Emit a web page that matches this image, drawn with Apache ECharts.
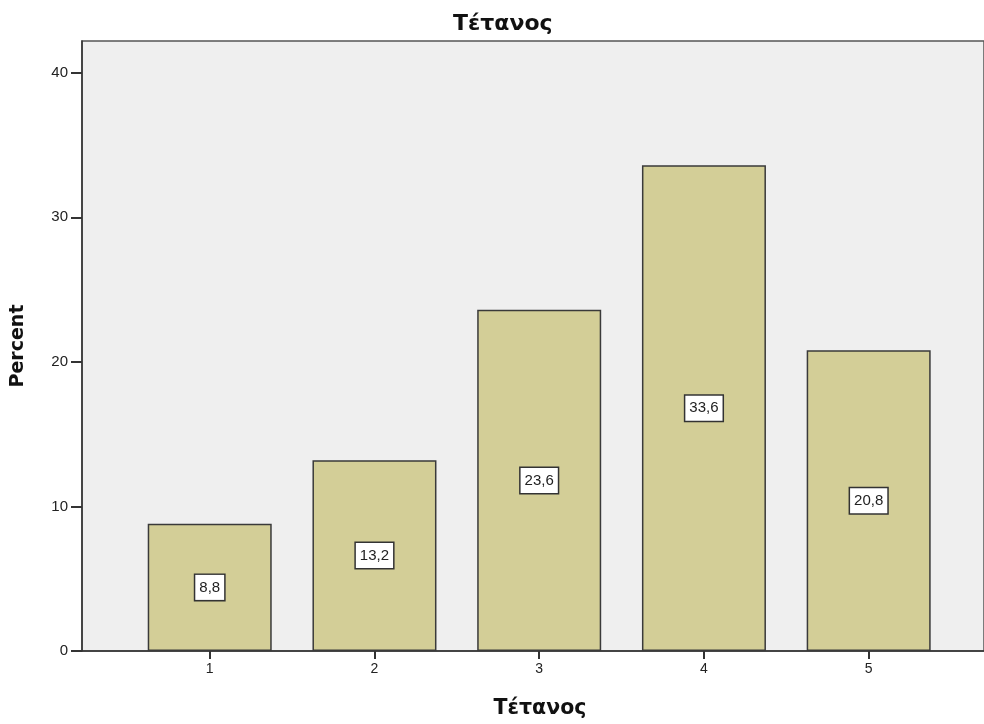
<!DOCTYPE html>
<html>
<head>
<meta charset="utf-8">
<script src="https://cdn.jsdelivr.net/npm/echarts@6/dist/echarts.min.js"></script>
<style>
  html, body { margin: 0; padding: 0; background: #fff; }
  #chart { width: 984px; height: 724px; }
</style>
</head>
<body>
<div id="chart"></div>
<script>
// Response categories and their percentages
const categories = [1, 2, 3, 4, 5];
const percents = [8.8, 13.2, 23.6, 33.6, 20.8];
const yTicks = [0, 10, 20, 30, 40];

const FONT = '"Liberation Sans", Arial, sans-serif';
const HEAD_FONT = '"DejaVu Sans", Verdana, sans-serif';

const chart = echarts.init(document.getElementById('chart'), null, { renderer: 'canvas' });

chart.setOption({
  animation: false,
  backgroundColor: '#ffffff',
  title: {
    text: 'Τέτανος',
    left: 448,
    top: 8,
    textStyle: { fontFamily: HEAD_FONT, fontSize: 22, fontWeight: 'bold', color: '#111' }
  },
  grid: {
    left: 82,
    right: -2,
    top: 41,
    bottom: 73,
    show: true,
    backgroundColor: '#efefef',
    borderColor: '#555',
    borderWidth: 1.5
  },
  xAxis: {
    type: 'value',
    min: 0.2247,
    max: 5.700,
    name: 'Τέτανος',
    nameLocation: 'middle',
    nameGap: 47,
    nameTextStyle: { fontFamily: HEAD_FONT, fontSize: 20.5, fontWeight: 'bold', color: '#111', padding: [0, 0, 0, 14] },
    axisLine: { show: true, onZero: false, lineStyle: { color: '#333', width: 1.5 } },
    axisTick: { show: true, customValues: categories, length: 8, lineStyle: { color: '#333', width: 2 } },
    axisLabel: { customValues: categories, fontFamily: FONT, fontSize: 14, color: '#222', margin: 11 },
    splitLine: { show: false }
  },
  yAxis: {
    type: 'value',
    min: 0,
    max: 42.2,
    interval: 10,
    name: 'Percent',
    nameLocation: 'middle',
    nameGap: 54,
    nameTextStyle: { fontFamily: HEAD_FONT, fontSize: 19, fontWeight: 'bold', color: '#111' },
    axisLine: { show: true, lineStyle: { color: '#333', width: 1.5 } },
    axisTick: { show: true, customValues: yTicks, length: 11, lineStyle: { color: '#333', width: 2 } },
    axisLabel: { customValues: yTicks, fontFamily: FONT, fontSize: 15, color: '#222', margin: 14 },
    splitLine: { show: false }
  },
  series: [{
    type: 'bar',
    data: categories.map((c, i) => [c, percents[i]]),
    barWidth: 124,
    itemStyle: { color: '#d3ce97', borderColor: '#3a3a3a', borderWidth: 1.5 },
    label: {
      show: true,
      position: 'inside',
      formatter: p => String(p.value[1]).replace('.', ','),
      fontFamily: FONT,
      fontSize: 15,
      color: '#222',
      backgroundColor: '#ffffff',
      borderColor: '#333',
      borderWidth: 1.5,
      padding: [5, 4, 5, 4]
    }
  }]
});
</script>
</body>
</html>
